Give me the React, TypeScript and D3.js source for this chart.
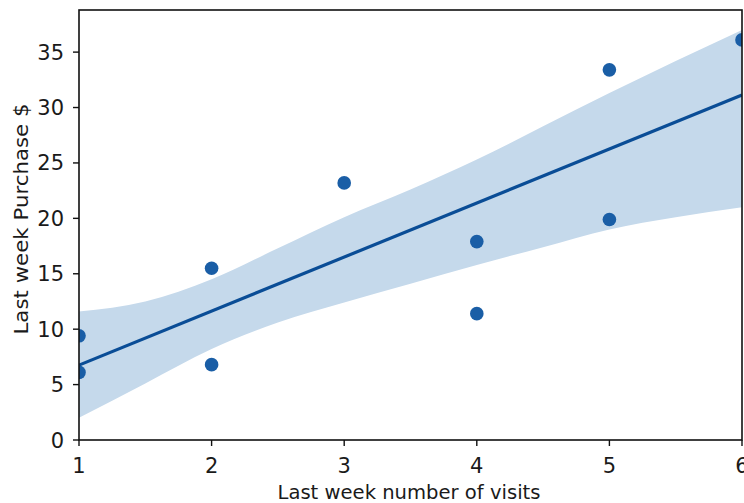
import React from "react";
import * as d3 from "d3";

// Visits vs. purchase amount for each customer
const visits = [1, 1, 2, 2, 3, 4, 4, 5, 5, 6];
const purchase = [9.4, 6.1, 15.5, 6.8, 23.2, 17.9, 11.4, 33.4, 19.9, 36.1];

// 95% confidence band (bootstrap) around the fitted line
const bandX = [1, 1.5, 2, 2.5, 3, 3.5, 4, 4.5, 5, 5.5, 6];
const bandLower = [2.0, 5.1, 8.2, 10.6, 12.4, 14.1, 15.8, 17.4, 19.0, 20.1, 21.0];
const bandUpper = [11.6, 12.5, 14.5, 17.3, 20.1, 22.6, 25.3, 28.3, 31.3, 34.2, 37.0];

const xTicks = [1, 2, 3, 4, 5, 6];
const yTicks = [0, 5, 10, 15, 20, 25, 30, 35];

const W = 744;
const H = 503;
const M = { left: 79, right: 742, top: 10, bottom: 440 };

const FONT = "'DejaVu Sans', sans-serif";
const LINE_COLOR = "#0a4d96";
const POINT_COLOR = "#1a5ea6";
const BAND_COLOR = "#c5d9eb";

export default function App() {
  const x = d3.scaleLinear().domain([1, 6]).range([M.left, M.right]);
  const y = d3.scaleLinear().domain([0, 38.8]).range([M.bottom, M.top]);

  // ordinary least squares fit
  const mx = d3.mean(visits)!;
  const my = d3.mean(purchase)!;
  let sxy = 0;
  let sxx = 0;
  visits.forEach((v, i) => {
    sxy += (v - mx) * (purchase[i] - my);
    sxx += (v - mx) * (v - mx);
  });
  const slope = sxy / sxx;
  const intercept = my - slope * mx;
  const fitX = [1, 6];

  const line = d3
    .line<number>()
    .x((d) => x(d))
    .y((d) => y(intercept + slope * d));

  const band = d3
    .area<number>()
    .x((_, i) => x(bandX[i]))
    .y0((_, i) => y(bandLower[i]))
    .y1((_, i) => y(bandUpper[i]))
    .curve(d3.curveMonotoneX);

  const textColor = "#1a1a1a";

  return (
    <svg
      width={W}
      height={H}
      style={{ position: "absolute", left: 0, top: 0, background: "#fff" }}
      fontFamily={FONT}
    >
      <defs>
        <clipPath id="plot-area">
          <rect x={M.left} y={M.top} width={M.right - M.left} height={M.bottom - M.top} />
        </clipPath>
      </defs>

      <g clipPath="url(#plot-area)">
        <path d={band(bandX) ?? ""} fill={BAND_COLOR} stroke="none" />
        {visits.map((v, i) => (
          <circle key={i} cx={x(v)} cy={y(purchase[i])} r={6.8} fill={POINT_COLOR} />
        ))}
        <path d={line(fitX) ?? ""} fill="none" stroke={LINE_COLOR} strokeWidth={3.2} />
      </g>

      {/* spines */}
      <rect
        x={M.left}
        y={M.top}
        width={M.right - M.left}
        height={M.bottom - M.top}
        fill="none"
        stroke="#111"
        strokeWidth={1.6}
      />

      {/* x axis */}
      {xTicks.map((t) => (
        <g key={t}>
          <line x1={x(t)} x2={x(t)} y1={M.bottom} y2={M.bottom + 6} stroke="#111" strokeWidth={1.4} />
          <text x={x(t)} y={473} textAnchor="middle" fontSize={21} fill={textColor}>
            {t}
          </text>
        </g>
      ))}
      <text
        x={409}
        y={499}
        textAnchor="middle"
        fontSize={19.5}
        textLength={263}
        lengthAdjust="spacingAndGlyphs"
        fill={textColor}
      >
        Last week number of visits
      </text>

      {/* y axis */}
      {yTicks.map((t) => (
        <g key={t}>
          <line x1={M.left - 6} x2={M.left} y1={y(t)} y2={y(t)} stroke="#111" strokeWidth={1.4} />
          <text x={64} y={y(t)} dy="0.36em" textAnchor="end" fontSize={21} fill={textColor}>
            {t}
          </text>
        </g>
      ))}
      <text
        transform={`translate(27.5, 219) rotate(-90)`}
        textAnchor="middle"
        fontSize={19.5}
        textLength={231}
        lengthAdjust="spacingAndGlyphs"
        fill={textColor}
      >
        Last week Purchase $
      </text>
    </svg>
  );
}
